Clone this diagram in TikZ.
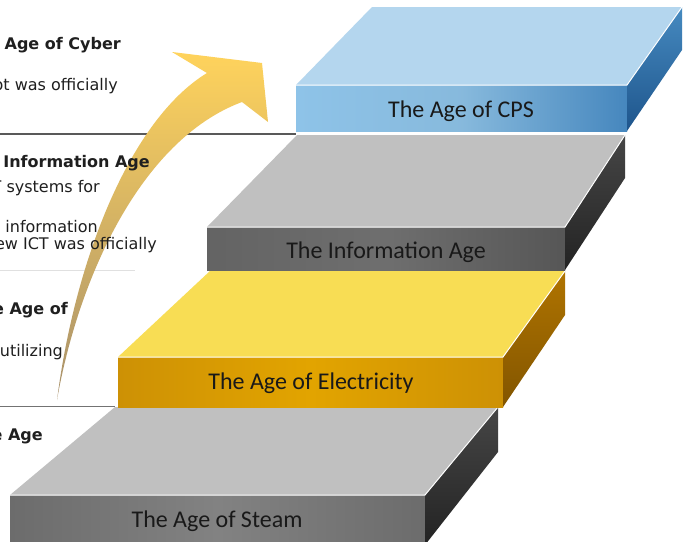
\documentclass[tikz,border=0pt]{standalone}
\usepackage{fontspec}
\setmainfont{DejaVu Sans}
\newfontfamily\labelfont{Carlito}

\definecolor{greytop}{RGB}{192,192,192}
\definecolor{greyfront}{RGB}{130,130,130}
\definecolor{greyfrontdark}{RGB}{108,108,108}
\definecolor{greyside}{RGB}{70,70,70}
\definecolor{greysidedark}{RGB}{35,35,35}
\definecolor{yellowtop}{RGB}{248,221,84}
\definecolor{yellowfront}{RGB}{226,164,0}
\definecolor{yellowfrontdark}{RGB}{205,145,5}
\definecolor{yellowside}{RGB}{176,116,0}
\definecolor{yellowsidedark}{RGB}{130,85,0}
\definecolor{bluetop}{RGB}{180,214,238}
\definecolor{bluefront}{RGB}{142,195,232}
\definecolor{bluefrontdark}{RGB}{70,135,190}
\definecolor{blueside}{RGB}{70,138,192}
\definecolor{bluesidedark}{RGB}{30,85,140}
\definecolor{arrowyellow}{RGB}{255,211,92}
\definecolor{arrowmid}{RGB}{238,196,108}
\definecolor{arrowtan}{RGB}{168,145,108}

\tikzstyle{steplabel} = [font=\labelfont\fontsize{24}{24}\selectfont, text=black!90, inner sep=0pt, anchor=base]
\tikzstyle{heading} = [font=\bfseries\fontsize{16}{18}\selectfont, text=black!88, inner sep=0pt, anchor=base east]
\tikzstyle{body} = [font=\fontsize{16}{18}\selectfont, text=black!88, inner sep=0pt, anchor=base east]
\tikzstyle{rule} = [draw=black!65, line width=1.2pt]
\tikzstyle{faintrule} = [draw=black!12, line width=0.8pt]
\tikzstyle{edge} = [draw=white, line width=1pt]

\begin{document}
\begin{tikzpicture}[x=1pt, y=-1pt]
\useasboundingbox (0,0) rectangle (687,541);
\fill[white] (0,0) rectangle (687,541);

% separators
\draw[rule] (0,134) -- (296,134);
\draw[faintrule] (0,270) -- (135,270);
\draw[rule, line width=0.9pt, draw=black!55] (0,406) -- (115,406);

% curved arrow
\shade[top color=arrowyellow, middle color=arrowmid, bottom color=arrowtan]
  (57,400) .. controls (75,260) and (130,120) .. (207,73)
  -- (172,52) -- (262,63) -- (268,122) -- (242,102)
  .. controls (140,140) and (78,280) .. (57,400) -- cycle;

% steam
\shade[left color=greyfrontdark, right color=greyfrontdark, middle color=greyfront] (10,495) rectangle (425,545);
\fill[greytop] (10,495) -- (115,407) -- (498,407) -- (425,495) -- cycle;
\shade[top color=greyside, bottom color=greysidedark] (425,495) -- (498,407) -- (498,452) -- (425,545) -- cycle;
\draw[edge] (10,495) -- (425,495) -- (498,407);
\node (steam) [steplabel] at (217,527) {The Age of Steam};

% electricity
\shade[left color=yellowfrontdark, right color=yellowfrontdark, middle color=yellowfront] (118,357) rectangle (503,407);
\fill[yellowtop] (118,357) -- (210,271) -- (565,271) -- (503,357) -- cycle;
\shade[top color=yellowside, bottom color=yellowsidedark] (503,357) -- (565,271) -- (565,315) -- (503,407) -- cycle;
\draw[edge] (118,357) -- (503,357) -- (565,271);
\node (elec) [steplabel] at (311,389) {The Age of Electricity};

% information
\shade[left color=greyfrontdark!92!black, right color=greyfrontdark!80!black, middle color=greyfront!85!black] (207,227) rectangle (565,270);
\fill[greytop] (207,227) -- (297,135) -- (625,135) -- (565,227) -- cycle;
\shade[top color=greyside, bottom color=greysidedark] (565,227) -- (625,135) -- (625,178) -- (565,270) -- cycle;
\draw[edge] (207,227) -- (565,227) -- (625,135);
\node (info) [steplabel] at (386,258) {The Information Age};

% cps
\shade[left color=bluefront, right color=bluefrontdark, middle color=bluefront!95!black] (296,85) rectangle (627,131);
\fill[bluetop] (296,85) -- (372,7) -- (682,7) -- (627,85) -- cycle;
\shade[top color=blueside, bottom color=bluesidedark] (627,85) -- (682,7) -- (682,50) -- (627,131) -- cycle;
\draw[edge] (296,85) -- (627,85) -- (682,7);
\node (cps) [steplabel] at (461,117) {The Age of CPS};

% left hand text
\node (cyberhead) [heading] at (121,49) {e Age of Cyber};
\node (cyberbody) [body] at (118,90) {ot was officially};
\node (infohead) [heading] at (150,167) {Information Age};
\node (infoline1) [body] at (100,192) {T systems for};
\node (infoline2) [body] at (98,232) {information};
\node (infoline3) [body] at (157,249) {ew ICT was officially};
\node (elechead) [heading] at (68,314) {e Age of};
\node (elecbody) [body] at (63,356) {utilizing};
\node (steamhead) [heading] at (43,440) {e Age};
\end{tikzpicture}
\end{document}
